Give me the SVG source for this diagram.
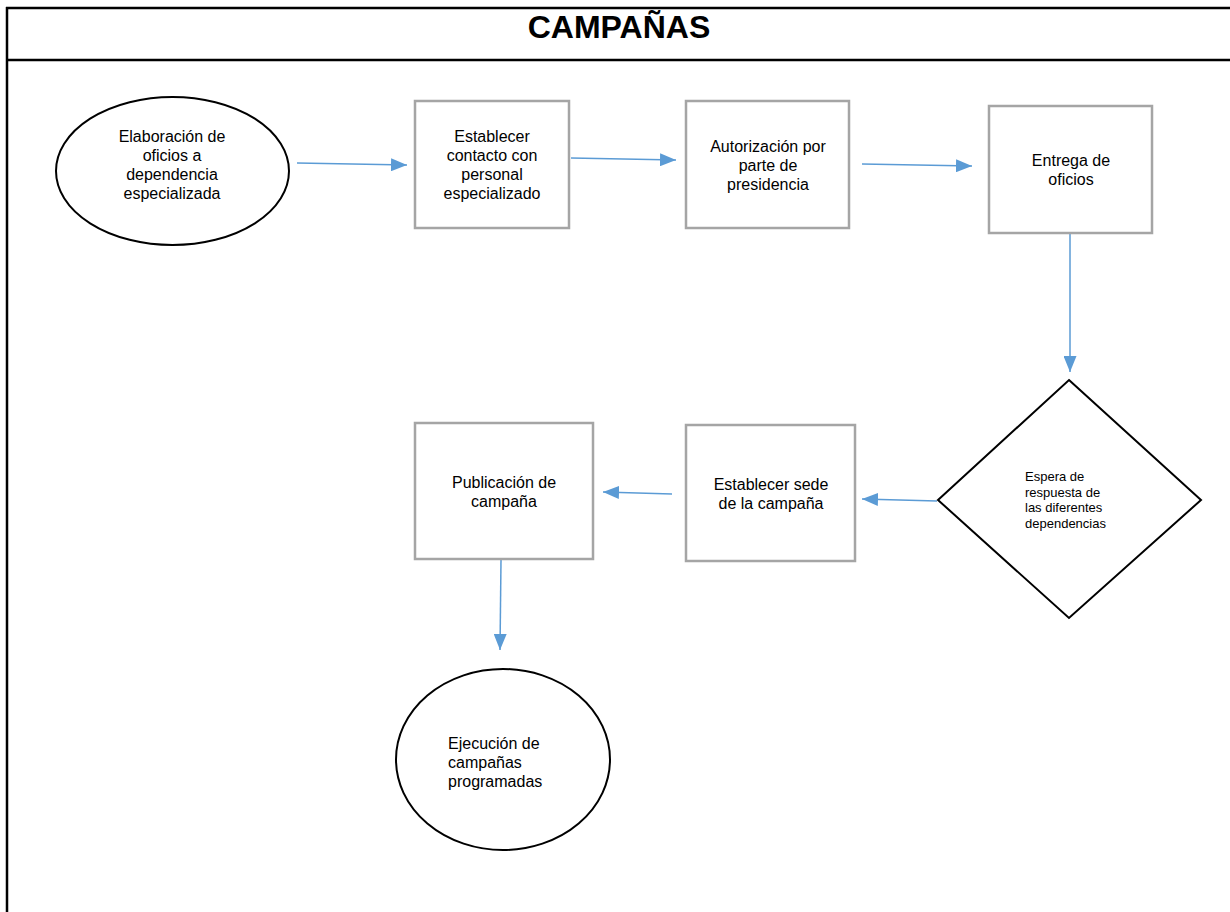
<svg xmlns="http://www.w3.org/2000/svg" width="1230" height="912" viewBox="0 0 1230 912">
  <defs>
    <style>
      .frame { fill: none; stroke: #000; stroke-width: 2.5; }
      .box { fill: #fff; stroke: #a5a5a5; stroke-width: 2.5; }
      .term { fill: #fff; stroke: #000; stroke-width: 2; }
      .conn { fill: none; stroke: #5b9bd5; stroke-width: 1.5; marker-end: url(#arrow); }
      .t { font-family: "Liberation Sans", Arial, sans-serif; font-size: 16px; fill: #000; }
      .c { text-anchor: middle; }
      .s { font-size: 13px; }
      .title { font-family: "Liberation Sans", Arial, sans-serif; font-size: 32px; font-weight: bold; text-anchor: middle; fill: #000; }
    </style>
    <marker id="arrow" markerUnits="userSpaceOnUse" markerWidth="17" markerHeight="13" refX="16" refY="6.5" orient="auto">
      <path d="M0,0 L16,6.5 L0,13 Z" fill="#5b9bd5"/>
    </marker>
  </defs>
  <rect x="0" y="0" width="1230" height="912" fill="#fff"/>

  <g id="frame">
    <line class="frame" x1="6" y1="8" x2="1232" y2="8"/>
    <line class="frame" x1="6" y1="60" x2="1232" y2="60"/>
    <line class="frame" x1="7" y1="7" x2="7" y2="914"/>
    <text class="title" x="619" y="38">CAMPAÑAS</text>
  </g>

  <g id="connectors">
    <line class="conn" x1="297" y1="163" x2="407" y2="165"/>
    <line class="conn" x1="571" y1="158" x2="676" y2="160"/>
    <line class="conn" x1="862" y1="164" x2="972" y2="166"/>
    <line class="conn" x1="1070" y1="234" x2="1070" y2="372"/>
    <line class="conn" x1="937" y1="501" x2="862" y2="499"/>
    <line class="conn" x1="672" y1="494" x2="603" y2="492"/>
    <line class="conn" x1="501" y1="560" x2="500" y2="650"/>
  </g>

  <g id="n1">
    <ellipse class="term" cx="172.5" cy="171" rx="116.5" ry="74"/>
    <text class="t c" x="172" y="142">Elaboración de</text>
    <text class="t c" x="172" y="161">oficios a</text>
    <text class="t c" x="172" y="180">dependencia</text>
    <text class="t c" x="172" y="199">especializada</text>
  </g>

  <g id="n2">
    <rect class="box" x="415" y="101" width="154" height="127"/>
    <text class="t c" x="492" y="142">Establecer</text>
    <text class="t c" x="492" y="161">contacto con</text>
    <text class="t c" x="492" y="180">personal</text>
    <text class="t c" x="492" y="199">especializado</text>
  </g>

  <g id="n3">
    <rect class="box" x="686" y="101" width="163" height="127"/>
    <text class="t c" x="768" y="152">Autorización por</text>
    <text class="t c" x="768" y="171">parte de</text>
    <text class="t c" x="768" y="190">presidencia</text>
  </g>

  <g id="n4">
    <rect class="box" x="989" y="106" width="163" height="127"/>
    <text class="t c" x="1071" y="166">Entrega de</text>
    <text class="t c" x="1071" y="185">oficios</text>
  </g>

  <g id="n5">
    <polygon class="term" points="1069,380 1201,500 1069,618 938,500"/>
    <text class="t s" x="1025" y="481">Espera de</text>
    <text class="t s" x="1025" y="497">respuesta de</text>
    <text class="t s" x="1025" y="512">las diferentes</text>
    <text class="t s" x="1025" y="528">dependencias</text>
  </g>

  <g id="n6">
    <rect class="box" x="686" y="425" width="169" height="136"/>
    <text class="t c" x="771" y="490">Establecer sede</text>
    <text class="t c" x="771" y="509">de la campaña</text>
  </g>

  <g id="n7">
    <rect class="box" x="415" y="423" width="178" height="136"/>
    <text class="t c" x="504" y="488">Publicación de</text>
    <text class="t c" x="504" y="507">campaña</text>
  </g>

  <g id="n8">
    <ellipse class="term" cx="503" cy="759.5" rx="107" ry="90.5"/>
    <text class="t" x="448" y="749">Ejecución de</text>
    <text class="t" x="448" y="768">campañas</text>
    <text class="t" x="448" y="787">programadas</text>
  </g>
</svg>
